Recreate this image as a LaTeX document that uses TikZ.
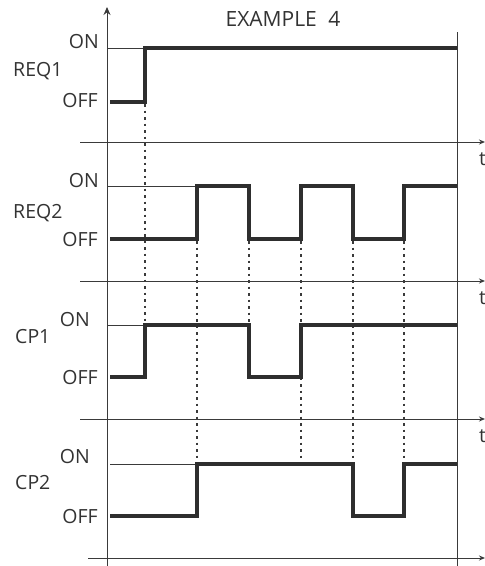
\documentclass[tikz,border=0pt]{standalone}
\usepackage{fontspec}
\setmainfont{Open Sans}
\usetikzlibrary{arrows.meta}
\definecolor{sigc}{HTML}{2E2E2E}
\definecolor{linec}{HTML}{3A3A3A}
\definecolor{txtc}{HTML}{333333}
\begin{document}
\begin{tikzpicture}[x=1pt,y=-1pt,
  sig/.style={line width=3.6pt, draw=sigc, line join=miter, line cap=butt},
  thinl/.style={line width=1pt, draw=linec},
  dotl/.style={line width=1.4pt, draw=linec, dash pattern=on 2.5pt off 4pt},
  haxis/.style={thinl, -{Stealth[length=6pt,width=5pt]}},
  lab/.style={font=\fontsize{19.5}{20}\selectfont, text=txtc, inner sep=0pt},
  ttl/.style={font=\fontsize{21}{22}\selectfont, text=txtc, inner sep=0pt},
]
\useasboundingbox (0,0) rectangle (485,566);

% axes
\coordinate (ytop) at (107,7);
\coordinate (ybot) at (107,566);
\draw[thinl, -{Stealth[length=8pt,width=7pt]}] (ybot) -- (ytop);
\coordinate (rtop) at (457,32);
\coordinate (rbot) at (457,566);
\draw[thinl] (rtop) -- (rbot);

\coordinate (a1s) at (80,142);  \coordinate (a1e) at (485,142);
\coordinate (a2s) at (80,281);  \coordinate (a2e) at (485,281);
\coordinate (a3s) at (80,419);  \coordinate (a3e) at (485,419);
\coordinate (a4s) at (88,558);  \coordinate (a4e) at (485,558);
\draw[haxis] (a1s) -- (a1e);
\draw[haxis] (a2s) -- (a2e);
\draw[haxis] (a3s) -- (a3e);
\draw[haxis] (a4s) -- (a4e);

% thin ON reference lines
\draw[thinl] (107,48) -- (145,48);
\draw[thinl] (107,186) -- (197,186);
\draw[thinl] (107,325) -- (145,325);
\draw[thinl] (110,464) -- (197,464);

% dotted guides
\draw[dotl] (145,104) -- (145,323);
\draw[dotl] (197,241) -- (197,462);
\draw[dotl] (249,241) -- (249,323);
\draw[dotl] (301,241) -- (301,462);
\draw[dotl] (353,241) -- (353,462);
\draw[dotl] (404,241) -- (404,462);

% signals
\draw[sig] (110,102) -- (145,102) -- (145,48) -- (457,48);
\draw[sig] (110,239) -- (197,239) -- (197,186) -- (249,186) -- (249,239)
  -- (301,239) -- (301,186) -- (353,186) -- (353,239) -- (404,239)
  -- (404,186) -- (457,186);
\draw[sig] (110,377) -- (145,377) -- (145,325) -- (249,325) -- (249,377)
  -- (301,377) -- (301,325) -- (457,325);
\draw[sig] (110,516) -- (197,516) -- (197,464) -- (353,464) -- (353,516)
  -- (404,516) -- (404,464) -- (457,464);

% labels
\node[ttl, anchor=base] (title) at (283,26) {EXAMPLE\hspace{0.55em}4};

\node[lab, anchor=base east] (on1) at (99,48) {ON};
\node[lab, anchor=base west] (req1) at (13,76) {REQ1};
\node[lab, anchor=base east] (off1) at (98,107) {OFF};

\node[lab, anchor=base east] (on2) at (99,187) {ON};
\node[lab, anchor=base west] (req2) at (13,218) {REQ2};
\node[lab, anchor=base east] (off2) at (98,246) {OFF};

\node[lab, anchor=base east] (on3) at (90,326) {ON};
\node[lab, anchor=base west] (cp1) at (15,343) {CP1};
\node[lab, anchor=base east] (off3) at (98,384) {OFF};

\node[lab, anchor=base east] (on4) at (90,463) {ON};
\node[lab, anchor=base west] (cp2) at (15,489) {CP2};
\node[lab, anchor=base east] (off4) at (98,523) {OFF};

\node[lab, anchor=base west] (t1) at (479,165) {t};
\node[lab, anchor=base west] (t2) at (479,304) {t};
\node[lab, anchor=base west] (t3) at (479,442) {t};
\end{tikzpicture}
\end{document}
